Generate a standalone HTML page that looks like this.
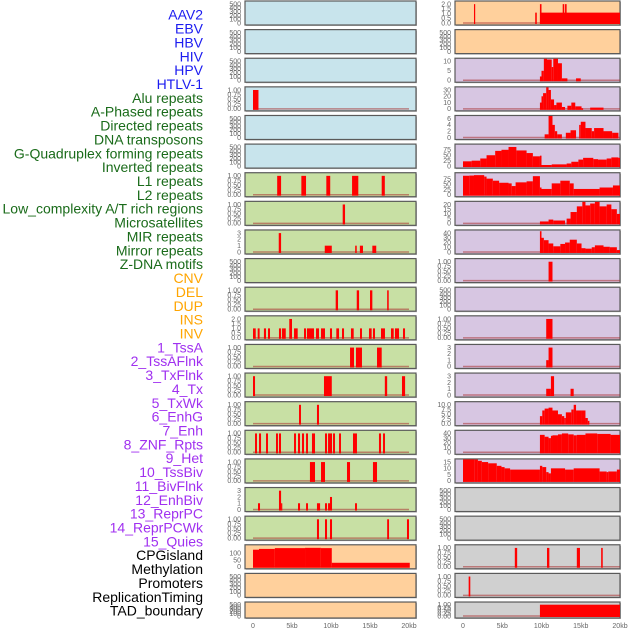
<!DOCTYPE html>
<html><head><meta charset="utf-8"><style>
html,body{margin:0;padding:0;background:#fff;}
svg{display:block;font-family:"Liberation Sans",sans-serif;}
</style></head><body>
<svg id="chart" width="630" height="630" viewBox="0 0 630 630" xmlns="http://www.w3.org/2000/svg"></svg>
<script>
const LABELS = ["AAV2","EBV","HBV","HIV","HPV","HTLV-1","Alu repeats","A-Phased repeats","Directed repeats","DNA transposons","G-Quadruplex forming repeats","Inverted repeats","L1 repeats","L2 repeats","Low_complexity A/T rich regions","Microsatellites","MIR repeats","Mirror repeats","Z-DNA motifs","CNV","DEL","DUP","INS","INV","1_TssA","2_TssAFlnk","3_TxFlnk","4_Tx","5_TxWk","6_EnhG","7_Enh","8_ZNF_Rpts","9_Het","10_TssBiv","11_BivFlnk","12_EnhBiv","13_ReprPC","14_ReprPCWk","15_Quies","CPGisland","Methylation","Promoters","ReplicationTiming","TAD_boundary"];
const LABEL_GROUPS = [6,13,5,15,5];
const GROUP_COLORS = ["#1c1cf0","#1a6b1a","#ffa500","#a030f0","#000000"];
const X_TICKS = [0,5,10,15,20];
const X_TICK_LABELS = ["0","5kb","10kb","15kb","20kb"];

const T500 = [0,100,200,300,400,500];
const T01 = [0,0.25,0.5,0.75,1];
const T02 = [0,0.5,1,1.5,2];
const T3 = [0,1,2,3];
const T150 = [0,50,100];

const L3 = [[0,0.7,1]];
const L6 = [[3.1,3.6,1],[6.2,6.8,1],[9.4,9.9,1],[12.7,13.5,1],[16.5,16.9,1]];
const L7 = [[11.5,11.8,1]];
const L8 = [[3.3,3.6,3],[9.2,10.1,1],[13.1,13.3,1],[13.7,14.1,1],[15.3,15.8,1]];
const L10 = [[10.6,10.9,1],[13.3,13.6,1],[15.0,15.3,1],[17.2,17.4,1]];
const L11 = [[0,0.35,1],[0.6,0.85,1],[1.4,1.67,1],[1.92,2.18,1],[3.33,3.6,1],[3.72,4.2,1],[4.65,5.0,2],[5.26,5.73,1],[6.54,6.8,1],[6.92,7.82,1],[8.08,8.46,1],[8.72,9.23,1],[9.87,10.13,1],[10.68,11.03,1],[11.41,11.67,1],[12.56,12.91,1],[13.72,13.97,1],[14.87,15.21,1],[15.38,15.64,1],[16.41,16.92,1],[17.69,18.04,1],[18.2,18.72,1],[19.23,19.49,1]];
const L12 = [[12.44,12.95,1],[13.2,13.97,1],[15.9,16.5,1]];
const L13 = [[0,0.26,1],[9.1,10.1,1],[16.9,17.2,1],[19.1,19.5,1]];
const L14 = [[5.9,6.15,1],[8.2,8.46,1]];
const L15 = [[0.26,0.51,1],[0.77,1.03,1],[1.67,1.92,1],[2.95,3.2,1],[3.33,3.59,1],[5.26,5.51,1],[5.77,6.03,1],[6.28,6.54,1],[6.8,7.05,1],[7.56,7.95,1],[9.23,9.49,1],[9.62,10.13,1],[10.26,10.51,1],[11.03,11.28,1],[12.82,13.33,1],[16.15,16.41,1],[16.67,16.92,1]];
const L16 = [[7.3,7.95,1],[8.72,9.23,1],[12.05,12.44,1],[15.38,15.9,1]];
const L17 = [[0.64,0.9,1],[3.33,3.6,3],[3.6,3.75,1],[5.77,6.03,1],[6.8,7.05,1],[8.2,8.6,1],[9.23,9.49,1],[9.62,9.87,1],[9.87,10.13,2],[13.08,13.33,1]];
const L18 = [[8.2,8.46,1],[9.23,9.49,1],[9.87,10.13,1],[17.2,17.44,1],[19.74,20,1]];
const L19 = [[0,0.77,128],[0.77,2.8,134],[2.8,6.67,140],[6.67,8.7,142],[8.7,10.1,140],[10.1,20.1,30]];

const R0 = [[1.4,1.55,2],[9.2,9.4,1.1],[9.8,20,1.1],[9.8,10.0,2],[12.7,12.9,2],[13.0,13.2,2]];
const R2 = [[9.8,10,2],[10,10.3,5],[10.3,10.7,14],[10.7,11.3,11],[11.3,11.5,7],[11.5,12.1,12],[12.1,12.6,9],[12.6,13.3,1],[14.4,15,1]];
const R3 = [[9.8,10,10],[10,10.2,20],[10.2,10.6,25],[10.6,10.9,35],[10.9,11.2,30],[11.2,11.6,15],[11.6,11.9,6],[11.9,12.6,10],[12.6,13.0,3],[13.3,13.8,5],[13.8,14.3,10],[14.3,15.1,4],[15.1,15.3,1],[16.2,17.9,2]];
const R4 = [[10.4,10.9,1],[10.9,11.4,7],[11.4,11.7,4],[11.7,12.0,2],[12.0,12.6,1],[13.1,13.7,1.5],[13.7,14.4,2.3],[14.8,15.0,4],[15.0,15.6,5],[15.6,16.4,3],[16.4,16.7,2],[16.7,17.9,3],[17.9,19.0,2],[19.0,19.8,1.5]];
const R5 = [[0,1.1,22],[1.1,2.2,25],[2.2,3.0,35],[3.0,4.1,50],[4.1,4.9,70],[4.9,5.8,75],[5.8,6.8,88],[6.8,8.1,72],[8.1,8.9,60],[8.9,9.8,45],[9.8,10.0,48],[10.0,11.3,5],[11.3,13.2,8],[13.2,13.8,12],[13.8,14.7,20],[14.7,15.3,30],[15.3,16.6,38],[16.6,17.2,32],[17.2,18.3,30],[18.3,18.9,35],[18.9,19.8,40],[19.8,20.0,38]];
const R6 = [[0,0.8,92],[0.8,1.4,93],[1.4,2.7,95],[2.7,3.0,88],[3.0,3.8,78],[3.8,4.6,68],[4.6,5.8,58],[5.8,6.2,55],[6.2,6.7,42],[6.7,8.1,60],[8.1,8.9,65],[8.9,9.8,90],[9.8,10.0,35],[10.0,11.3,28],[11.3,12.4,55],[12.4,13.6,68],[13.6,14.1,55],[14.1,17.4,28],[17.4,19.1,35],[19.1,20,45]];
const R7 = [[9.8,10.9,2],[10.9,11.5,4],[11.5,13.0,3],[13.2,13.7,5],[13.7,14.5,12],[14.5,15.2,18],[15.2,15.6,23],[15.6,16.2,19],[16.2,16.8,21],[16.8,17.4,23],[17.4,18.3,18],[18.3,18.9,20],[18.9,19.6,15],[19.6,20,10]];
const R8 = [[9.8,10.0,44],[10.0,10.3,30],[10.3,10.9,25],[10.9,11.5,18],[11.5,12.4,12],[12.4,13.0,17],[13.0,13.6,20],[13.6,14.5,26],[14.5,15.1,18],[15.1,15.6,8],[15.6,16.4,7],[16.4,16.8,10],[16.8,17.9,14],[17.9,18.7,11],[18.7,19.6,10],[19.6,20,4]];
const R9 = [[10.9,11.4,1]];
const R11 = [[10.6,11.4,1]];
const R12 = [[10.6,10.9,1],[10.9,11.4,3]];
const R13 = [[10.6,11.2,1],[11.2,11.6,3],[13.7,14.1,1]];
const R14 = [[9.8,10.1,4],[10.1,10.4,7],[10.4,10.9,8],[10.9,11.4,8.5],[11.4,12.1,7],[12.1,12.6,5],[12.6,12.9,4],[12.9,13.1,3],[13.1,13.8,6],[13.8,14.1,7.5],[14.1,14.4,10],[14.4,15.1,7],[15.1,15.6,7],[15.6,15.9,3],[15.9,16.1,1.5]];
const R15 = [[9.8,10.4,37],[10.4,10.9,33],[10.9,11.2,30],[11.2,11.4,35],[11.4,12.1,36],[12.1,12.6,38],[12.6,13.4,40],[13.4,14.1,38],[14.1,14.5,36],[14.5,15.6,37],[15.6,17.1,40],[17.1,18.8,39],[18.8,20,37]];
const R16 = [[0,1.5,19],[1.5,1.9,17],[1.9,2.4,16],[2.4,3.2,15],[3.2,4.3,14],[4.3,4.9,12],[4.9,5.3,11],[5.3,6.0,10],[6.0,9.8,9],[9.8,10.1,12],[10.1,10.6,11],[10.6,10.9,7],[10.9,11.2,6],[11.2,13.0,10],[13.0,14.1,9],[14.1,17.4,10],[17.4,18.3,7.5],[18.3,18.5,7],[18.5,19.6,7.5],[19.6,20,9]];
const R19 = [[6.6,6.9,1],[10.7,11.0,1],[14.5,14.9,1],[17.6,17.8,1]];
const R20 = [[0.72,0.93,1]];
const R21 = [[9.8,20,1]];

const BG = {blue:"#c8e4ec",green:"#c8e0a4",orange:"#ffd09c",purple:"#d7c6e2",gray:"#d0d0d0"};
const PANELS = [
 ["L",0,"blue",T500,null],["L",1,"blue",T500,null],["L",2,"blue",T500,null],["L",3,"blue",T01,L3],["L",4,"blue",T500,null],["L",5,"blue",T500,null],
 ["L",6,"green",T01,L6],["L",7,"green",T01,L7],["L",8,"green",T3,L8],["L",9,"green",T500,null],["L",10,"green",T01,L10],["L",11,"green",T02,L11],
 ["L",12,"green",T01,L12],["L",13,"green",T01,L13],["L",14,"green",T01,L14],["L",15,"green",T01,L15],["L",16,"green",T01,L16],["L",17,"green",T3,L17],["L",18,"green",T01,L18],
 ["L",19,"orange",T150,L19],["L",20,"orange",T500,null],["L",21,"orange",T500,null],
 ["R",0,"orange",T02,R0],["R",1,"orange",T500,null],["R",2,"purple",[0,5,10],R2],["R",3,"purple",[0,10,20,30],R3],["R",4,"purple",[0,2,4,6],R4],
 ["R",5,"purple",[0,25,50,75],R5],["R",6,"purple",[0,25,50,75],R6],["R",7,"purple",[0,5,10,15,20],R7],["R",8,"purple",[0,10,20,30,40],R8],
 ["R",9,"purple",T01,R9],["R",10,"purple",T500,null],["R",11,"purple",T01,R11],["R",12,"purple",T3,R12],["R",13,"purple",T3,R13],
 ["R",14,"purple",[0,2.5,5,7.5,10],R14],["R",15,"purple",[0,10,20,30,40],R15],["R",16,"purple",[0,5,10,15],R16],
 ["R",17,"gray",T500,null],["R",18,"gray",T500,null],["R",19,"gray",T01,R19],["R",20,"gray",T01,R20],["R",21,"gray",T01,R21]
];
const YMAX_OVERRIDE = {"L19":150,"R5":92,"R6":97};

const svg = document.getElementById("chart");
const NS = "http://www.w3.org/2000/svg";
function mk(tag, attrs, parent){
  const e = document.createElementNS(NS, tag);
  for (const k in attrs) e.setAttribute(k, attrs[k]);
  (parent||svg).appendChild(e);
  return e;
}
const COL = {L:{x0:245,x1:416,z:253,k:7.8,tx:241}, R:{x0:455,x1:620,z:463,k:7.85,tx:451}};
function xs(col,kb){ return COL[col].z + COL[col].k*kb; }
function rowTop(r){ return 1 + 28.62*r; }
function rowH(r){ return r===21 ? 16 : 24; }
function fmt(ticks,v){
  const step = ticks[1]-ticks[0];
  if (step===0.25) return v.toFixed(2);
  if (step===0.5 || step===2.5) return v.toFixed(1);
  return String(v);
}

let li = 0;
LABEL_GROUPS.forEach((n,g)=>{
  for (let i=0;i<n;i++){
    const t = mk("text",{x:203,y:16+li*13.86,"text-anchor":"end","dominant-baseline":"middle","font-size":"14",fill:GROUP_COLORS[g]});
    
    
    t.textContent = LABELS[li];
    li++;
  }
});

PANELS.forEach(p=>{
  const [col,row,bg,ticks,segs] = p;
  const c = COL[col];
  const top = rowTop(row), h = rowH(row), bot = top+h;
  const g = mk("g",{});
  
  
  mk("rect",{x:c.x0+1,y:top+1,width:c.x1-c.x0,height:h,fill:"#bbb"},g);
  mk("rect",{x:c.x0,y:top,width:c.x1-c.x0,height:h,fill:BG[bg],stroke:"#5a5a5a","stroke-width":1.2},g);
  const tmax = ticks[ticks.length-1];
  const ymax = YMAX_OVERRIDE[col+row] || tmax*1.06;
  const y0 = bot-2, span = h-4;
  const ys = v => y0 - v/ymax*span;
  ticks.forEach(v=>{
    const t = mk("text",{x:c.tx,y:ys(v)+2.3,"text-anchor":"end","font-size":"7",fill:"#666"},g);
    
    
    t.textContent = fmt(ticks,v);
  });
  if (segs){
    const bl = mk("line",{x1:xs(col,0),x2:xs(col,20),y1:y0,y2:y0,stroke:"rgba(170,50,50,0.55)","stroke-width":1.5},g);
    
    
    segs.forEach(s=>{
      const xa = xs(col,s[0]), xb = xs(col,s[1]);
      const yv = Math.max(top+0.5, ys(s[2]));
      const r = mk("rect",{x:xa,y:yv,width:Math.max(1.2,xb-xa),height:y0+1-yv,fill:"#ff0000"},g);
      
      
    });
  }
});

["L","R"].forEach(col=>{
  X_TICKS.forEach((v,i)=>{
    const t = mk("text",{x:xs(col,v),y:628,"text-anchor":"middle","font-size":"7",fill:"#666"});
    
    
    t.textContent = X_TICK_LABELS[i];
  });
});
</script>
</body></html>
